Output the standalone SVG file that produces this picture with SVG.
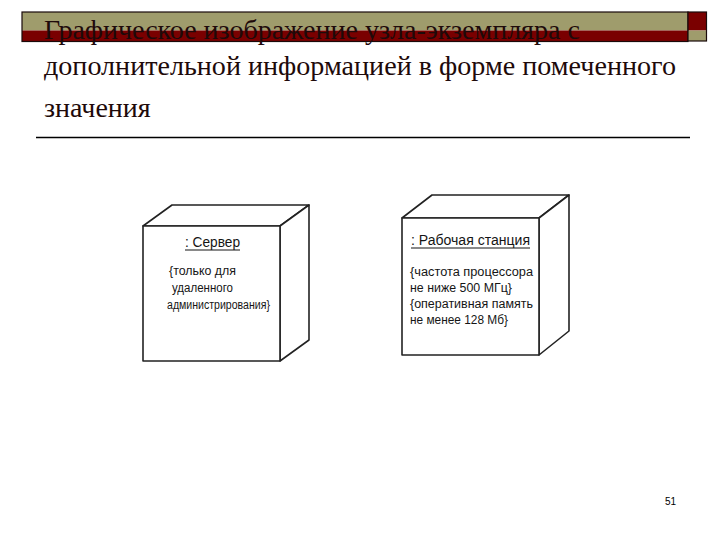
<svg xmlns="http://www.w3.org/2000/svg" width="720" height="540" viewBox="0 0 720 540">
  <defs>
    <style>
      .olive { fill: #9f9c6c; }
      .maroon { fill: #7a0000; }
      .barline { fill: none; stroke: #1a0a0a; stroke-width: 1.2; }
      .title { font-family: "Liberation Serif", "Times New Roman", serif; font-size: 28px; fill: #1e0a0a; }
      .cube { fill: #ffffff; stroke: #222222; stroke-width: 1.6; stroke-linejoin: round; }
      .tag { font-family: "Liberation Sans", Arial, sans-serif; font-size: 12.5px; fill: #151515; }
      .name { font-family: "Liberation Sans", Arial, sans-serif; font-size: 14px; fill: #151515; }
      .ul { stroke: #151515; stroke-width: 1.1; }
      .rule { stroke: #000000; stroke-width: 1.3; }
      .pnum { font-family: "Liberation Sans", Arial, sans-serif; font-size: 10px; fill: #000000; }
    </style>
  </defs>
  <rect x="0" y="0" width="720" height="540" fill="#ffffff"/>

  <g id="header-bar">
    <rect class="olive" x="22" y="12" width="666" height="18.5"/>
    <rect class="maroon" x="22" y="30.5" width="666" height="11"/>
    <rect class="barline" x="22" y="12" width="666" height="29.5"/>
    <rect class="maroon" x="688" y="12" width="18.5" height="18.5"/>
    <rect class="olive" x="688" y="30.5" width="18.5" height="10.5"/>
    <rect class="barline" x="688" y="12" width="18.5" height="29"/>
  </g>

  <g id="title">
    <text class="title" x="44" y="39">Графическое изображение узла-экземпляра с</text>
    <text class="title" x="44" y="75" textLength="632" lengthAdjust="spacingAndGlyphs">дополнительной информацией в форме помеченного</text>
    <text class="title" x="44" y="117">значения</text>
    <line class="rule" x1="36" y1="137.5" x2="690" y2="137.5"/>
  </g>

  <g id="node-server">
    <polygon class="cube" points="143,226 172,205 309,205 280,226"/>
    <polygon class="cube" points="280,226 309,205 309,340 280,361"/>
    <rect class="cube" x="143" y="226" width="137" height="135"/>
    <text class="name" x="185" y="247" textLength="55" lengthAdjust="spacingAndGlyphs">: Сервер</text>
    <line class="ul" x1="185" y1="250" x2="240" y2="250"/>
    <text class="tag" x="169" y="275" textLength="67" lengthAdjust="spacingAndGlyphs">{только для</text>
    <text class="tag" x="172" y="292" textLength="61" lengthAdjust="spacingAndGlyphs">удаленного</text>
    <text class="tag" x="167" y="309" textLength="103" lengthAdjust="spacingAndGlyphs">администрирования}</text>
  </g>

  <g id="node-workstation">
    <polygon class="cube" points="402,218 432,195 569,195 539,218"/>
    <polygon class="cube" points="539,218 569,195 569,331 539,355"/>
    <rect class="cube" x="402" y="218" width="137" height="137"/>
    <text class="name" x="411" y="245" textLength="119" lengthAdjust="spacingAndGlyphs">: Рабочая станция</text>
    <line class="ul" x1="411" y1="248" x2="530" y2="248"/>
    <text class="tag" x="410" y="276" textLength="123" lengthAdjust="spacingAndGlyphs">{частота процессора</text>
    <text class="tag" x="410" y="292" textLength="102" lengthAdjust="spacingAndGlyphs">не ниже 500 МГц}</text>
    <text class="tag" x="410" y="308" textLength="123" lengthAdjust="spacingAndGlyphs">{оперативная память</text>
    <text class="tag" x="410" y="324" textLength="98" lengthAdjust="spacingAndGlyphs">не менее 128 Мб}</text>
  </g>

  <g id="connectors"></g>

  <g id="page-number">
    <text class="pnum" x="665" y="505">51</text>
  </g>
</svg>
